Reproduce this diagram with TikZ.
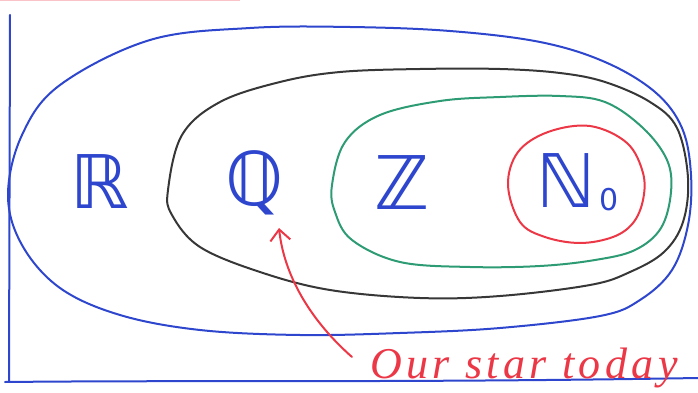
\documentclass[tikz,border=0pt]{standalone}
\usepackage{fontspec}
\setmainfont{Liberation Serif}
\newfontfamily\bbfont{DejaVu Sans}
\newfontfamily\notefont[LetterSpace=10]{Liberation Serif}
\usetikzlibrary{arrows.meta}
\definecolor{penblue}{RGB}{45,70,205}
\definecolor{penblack}{RGB}{55,55,55}
\definecolor{pengreen}{RGB}{45,155,115}
\definecolor{penred}{RGB}{235,55,70}
\tikzset{
  pen/.style={line width=2pt, line cap=round, line join=round},
  setlabel/.style={text=penblue, font=\bbfont\fontsize{74}{74}\selectfont, inner sep=0pt},
  note/.style={text=penred, font=\notefont\itshape\fontsize{44}{44}\selectfont, inner sep=0pt}
}
\begin{document}
\begin{tikzpicture}[x=1pt,y=-1pt]
\useasboundingbox (0,0) rectangle (698,393);
% paper edge
\draw[penred!50, line width=2pt, opacity=0.6] (0,0.5) -- (240,0.5);
% frame
\coordinate (ftop) at (10,15);
\coordinate (fbl) at (9,381);
\coordinate (fbr) at (698,378);
\draw[pen, penblue] (ftop) -- (fbl);
\draw[pen, penblue] (5,382) .. controls (200,380) and (400,383) .. (fbr);
% R (blue)
\draw[pen, penblue] plot[smooth cycle, tension=0.6] coordinates {
 (8,195) (22,135) (60,85) (150,40) (250,28) (350,27) (450,31) (540,42) (605,62)
 (655,92) (682,128) (691,175) (688,225) (672,270) (640,300) (600,316)
 (500,328) (400,333) (300,335) (200,330) (120,315) (60,288) (22,245)};
% Q (black)
\draw[pen, penblack] plot[smooth cycle, tension=0.6] coordinates {
 (168,190) (182,135) (220,102) (280,82) (340,72) (420,69) (500,69) (560,73) (605,82)
 (650,102) (677,128) (688,178) (683,222) (664,252) (630,272) (590,285)
 (500,296) (420,298) (330,290) (260,272) (200,247) (172,215)};
% Z (green)
\draw[pen, pengreen] plot[smooth cycle, tension=0.6] coordinates {
 (332,185) (345,142) (380,115) (440,101) (500,97) (560,96) (605,102)
 (643,128) (667,160) (671,192) (661,228) (635,250) (595,260)
 (540,266) (470,267) (400,262) (352,240) (335,212)};
% N0 (red)
\draw[pen, penred] plot[smooth cycle, tension=0.6] coordinates {
 (508,185) (518,152) (548,132) (590,126) (627,143) (643,173) (643,200)
 (633,223) (613,237) (580,243) (545,237) (520,222)};
% labels
\node[setlabel] (lR) at (100,182) {ℝ};
\node[setlabel] (lQ) at (255,183) {ℚ};
\node[setlabel] (lZ) at (402,183) {ℤ};
\node[setlabel] (lN) at (566,181) {ℕ};
\node[setlabel, font=\bbfont\fontsize{30}{30}\selectfont] (l0) at (609,200) {0};
% note and arrow
\node[note, anchor=base west] (star) at (370,378) {Our star today};
\coordinate (tip) at (279,228);
\draw[pen, penred, -{Straight Barb[length=11pt,width=20pt]}]
  (352,357) .. controls (310,320) and (284,275) .. (tip);
\end{tikzpicture}
\end{document}
